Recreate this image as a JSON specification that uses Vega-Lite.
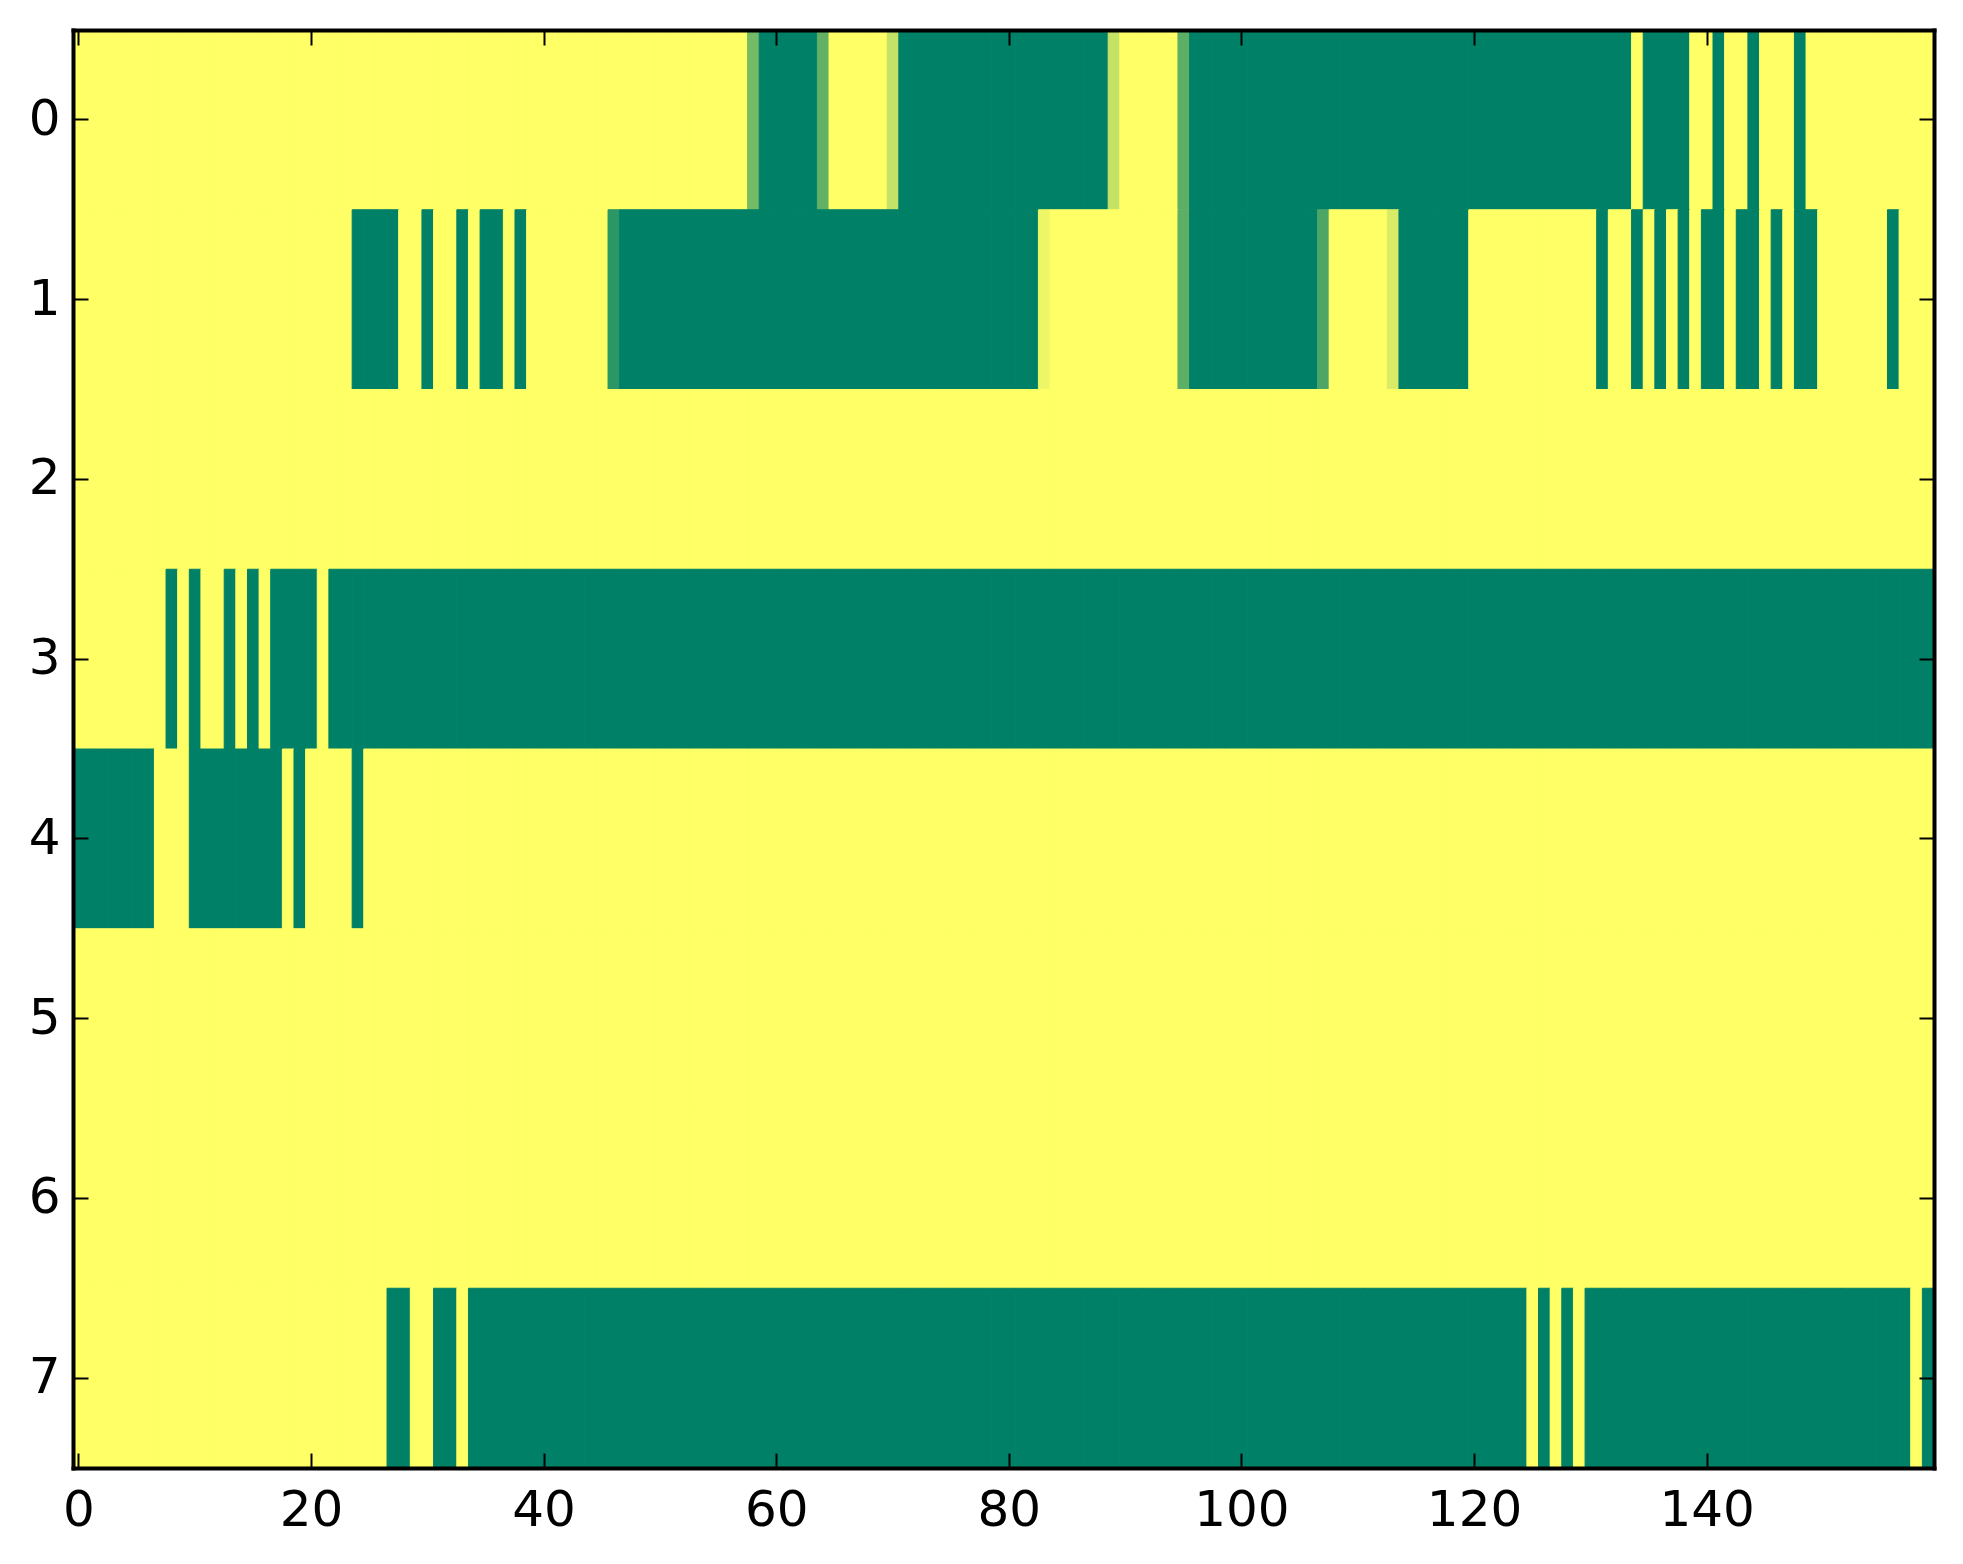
{
"$schema":"https://vega.github.io/schema/vega-lite/v6.json",
"width":1861,"height":1438,
"autosize":{"type":"none"},
"padding":{"left":73,"top":30,"right":29,"bottom":96},
"background":"white",
"config":{"view":{"stroke":null},"axis":{"labelFont":"DejaVu Sans","labelFontSize":50,"labelColor":"black","tickColor":"black","tickWidth":2,"tickSize":-15,"domainColor":"black","domainWidth":4,"domainCap":"square","grid":false,"title":null,"labelAngle":0}},
"data":{"values":[
{"c":0,"r":0,"v":1},{"c":1,"r":0,"v":1},{"c":2,"r":0,"v":1},{"c":3,"r":0,"v":1},{"c":4,"r":0,"v":1},{"c":5,"r":0,"v":1},{"c":6,"r":0,"v":1},{"c":7,"r":0,"v":1},{"c":8,"r":0,"v":1},{"c":9,"r":0,"v":1},
{"c":10,"r":0,"v":1},{"c":11,"r":0,"v":1},{"c":12,"r":0,"v":1},{"c":13,"r":0,"v":1},{"c":14,"r":0,"v":1},{"c":15,"r":0,"v":1},{"c":16,"r":0,"v":1},{"c":17,"r":0,"v":1},{"c":18,"r":0,"v":1},{"c":19,"r":0,"v":1},
{"c":20,"r":0,"v":1},{"c":21,"r":0,"v":1},{"c":22,"r":0,"v":1},{"c":23,"r":0,"v":1},{"c":24,"r":0,"v":1},{"c":25,"r":0,"v":1},{"c":26,"r":0,"v":1},{"c":27,"r":0,"v":1},{"c":28,"r":0,"v":1},{"c":29,"r":0,"v":1},
{"c":30,"r":0,"v":1},{"c":31,"r":0,"v":1},{"c":32,"r":0,"v":1},{"c":33,"r":0,"v":1},{"c":34,"r":0,"v":1},{"c":35,"r":0,"v":1},{"c":36,"r":0,"v":1},{"c":37,"r":0,"v":1},{"c":38,"r":0,"v":1},{"c":39,"r":0,"v":1},
{"c":40,"r":0,"v":1},{"c":41,"r":0,"v":1},{"c":42,"r":0,"v":1},{"c":43,"r":0,"v":1},{"c":44,"r":0,"v":1},{"c":45,"r":0,"v":1},{"c":46,"r":0,"v":1},{"c":47,"r":0,"v":1},{"c":48,"r":0,"v":1},{"c":49,"r":0,"v":1},
{"c":50,"r":0,"v":1},{"c":51,"r":0,"v":1},{"c":52,"r":0,"v":1},{"c":53,"r":0,"v":1},{"c":54,"r":0,"v":1},{"c":55,"r":0,"v":1},{"c":56,"r":0,"v":1},{"c":57,"r":0,"v":1},{"c":58,"r":0,"v":0.46},{"c":59,"r":0,"v":0},
{"c":60,"r":0,"v":0},{"c":61,"r":0,"v":0},{"c":62,"r":0,"v":0},{"c":63,"r":0,"v":0},{"c":64,"r":0,"v":0.38},{"c":65,"r":0,"v":1},{"c":66,"r":0,"v":1},{"c":67,"r":0,"v":1},{"c":68,"r":0,"v":1},{"c":69,"r":0,"v":1},
{"c":70,"r":0,"v":0.77},{"c":71,"r":0,"v":0},{"c":72,"r":0,"v":0},{"c":73,"r":0,"v":0},{"c":74,"r":0,"v":0},{"c":75,"r":0,"v":0},{"c":76,"r":0,"v":0},{"c":77,"r":0,"v":0},{"c":78,"r":0,"v":0},{"c":79,"r":0,"v":0},
{"c":80,"r":0,"v":0},{"c":81,"r":0,"v":0},{"c":82,"r":0,"v":0},{"c":83,"r":0,"v":0},{"c":84,"r":0,"v":0},{"c":85,"r":0,"v":0},{"c":86,"r":0,"v":0},{"c":87,"r":0,"v":0},{"c":88,"r":0,"v":0},{"c":89,"r":0,"v":0.77},
{"c":90,"r":0,"v":1},{"c":91,"r":0,"v":1},{"c":92,"r":0,"v":1},{"c":93,"r":0,"v":1},{"c":94,"r":0,"v":1},{"c":95,"r":0,"v":0.37},{"c":96,"r":0,"v":0},{"c":97,"r":0,"v":0},{"c":98,"r":0,"v":0},{"c":99,"r":0,"v":0},
{"c":100,"r":0,"v":0},{"c":101,"r":0,"v":0},{"c":102,"r":0,"v":0},{"c":103,"r":0,"v":0},{"c":104,"r":0,"v":0},{"c":105,"r":0,"v":0},{"c":106,"r":0,"v":0},{"c":107,"r":0,"v":0},{"c":108,"r":0,"v":0},{"c":109,"r":0,"v":0},
{"c":110,"r":0,"v":0},{"c":111,"r":0,"v":0},{"c":112,"r":0,"v":0},{"c":113,"r":0,"v":0},{"c":114,"r":0,"v":0},{"c":115,"r":0,"v":0},{"c":116,"r":0,"v":0},{"c":117,"r":0,"v":0},{"c":118,"r":0,"v":0},{"c":119,"r":0,"v":0},
{"c":120,"r":0,"v":0},{"c":121,"r":0,"v":0},{"c":122,"r":0,"v":0},{"c":123,"r":0,"v":0},{"c":124,"r":0,"v":0},{"c":125,"r":0,"v":0},{"c":126,"r":0,"v":0},{"c":127,"r":0,"v":0},{"c":128,"r":0,"v":0},{"c":129,"r":0,"v":0},
{"c":130,"r":0,"v":0},{"c":131,"r":0,"v":0},{"c":132,"r":0,"v":0},{"c":133,"r":0,"v":0},{"c":134,"r":0,"v":1},{"c":135,"r":0,"v":0},{"c":136,"r":0,"v":0},{"c":137,"r":0,"v":0},{"c":138,"r":0,"v":0},{"c":139,"r":0,"v":1},
{"c":140,"r":0,"v":1},{"c":141,"r":0,"v":0},{"c":142,"r":0,"v":1},{"c":143,"r":0,"v":1},{"c":144,"r":0,"v":0},{"c":145,"r":0,"v":1},{"c":146,"r":0,"v":1},{"c":147,"r":0,"v":1},{"c":148,"r":0,"v":0},{"c":149,"r":0,"v":1},
{"c":150,"r":0,"v":1},{"c":151,"r":0,"v":1},{"c":152,"r":0,"v":1},{"c":153,"r":0,"v":1},{"c":154,"r":0,"v":1},{"c":155,"r":0,"v":1},{"c":156,"r":0,"v":1},{"c":157,"r":0,"v":1},{"c":158,"r":0,"v":1},{"c":159,"r":0,"v":1},
{"c":0,"r":1,"v":1},{"c":1,"r":1,"v":1},{"c":2,"r":1,"v":1},{"c":3,"r":1,"v":1},{"c":4,"r":1,"v":1},{"c":5,"r":1,"v":1},{"c":6,"r":1,"v":1},{"c":7,"r":1,"v":1},{"c":8,"r":1,"v":1},{"c":9,"r":1,"v":1},
{"c":10,"r":1,"v":1},{"c":11,"r":1,"v":1},{"c":12,"r":1,"v":1},{"c":13,"r":1,"v":1},{"c":14,"r":1,"v":1},{"c":15,"r":1,"v":1},{"c":16,"r":1,"v":1},{"c":17,"r":1,"v":1},{"c":18,"r":1,"v":1},{"c":19,"r":1,"v":1},
{"c":20,"r":1,"v":1},{"c":21,"r":1,"v":1},{"c":22,"r":1,"v":1},{"c":23,"r":1,"v":1},{"c":24,"r":1,"v":0},{"c":25,"r":1,"v":0},{"c":26,"r":1,"v":0},{"c":27,"r":1,"v":0},{"c":28,"r":1,"v":1},{"c":29,"r":1,"v":1},
{"c":30,"r":1,"v":0},{"c":31,"r":1,"v":1},{"c":32,"r":1,"v":1},{"c":33,"r":1,"v":0},{"c":34,"r":1,"v":1},{"c":35,"r":1,"v":0},{"c":36,"r":1,"v":0},{"c":37,"r":1,"v":1},{"c":38,"r":1,"v":0},{"c":39,"r":1,"v":1},
{"c":40,"r":1,"v":1},{"c":41,"r":1,"v":1},{"c":42,"r":1,"v":1},{"c":43,"r":1,"v":1},{"c":44,"r":1,"v":1},{"c":45,"r":1,"v":1},{"c":46,"r":1,"v":0.17},{"c":47,"r":1,"v":0},{"c":48,"r":1,"v":0},{"c":49,"r":1,"v":0},
{"c":50,"r":1,"v":0},{"c":51,"r":1,"v":0},{"c":52,"r":1,"v":0},{"c":53,"r":1,"v":0},{"c":54,"r":1,"v":0},{"c":55,"r":1,"v":0},{"c":56,"r":1,"v":0},{"c":57,"r":1,"v":0},{"c":58,"r":1,"v":0},{"c":59,"r":1,"v":0},
{"c":60,"r":1,"v":0},{"c":61,"r":1,"v":0},{"c":62,"r":1,"v":0},{"c":63,"r":1,"v":0},{"c":64,"r":1,"v":0},{"c":65,"r":1,"v":0},{"c":66,"r":1,"v":0},{"c":67,"r":1,"v":0},{"c":68,"r":1,"v":0},{"c":69,"r":1,"v":0},
{"c":70,"r":1,"v":0},{"c":71,"r":1,"v":0},{"c":72,"r":1,"v":0},{"c":73,"r":1,"v":0},{"c":74,"r":1,"v":0},{"c":75,"r":1,"v":0},{"c":76,"r":1,"v":0},{"c":77,"r":1,"v":0},{"c":78,"r":1,"v":0},{"c":79,"r":1,"v":0},
{"c":80,"r":1,"v":0},{"c":81,"r":1,"v":0},{"c":82,"r":1,"v":0},{"c":83,"r":1,"v":0.93},{"c":84,"r":1,"v":1},{"c":85,"r":1,"v":1},{"c":86,"r":1,"v":1},{"c":87,"r":1,"v":1},{"c":88,"r":1,"v":1},{"c":89,"r":1,"v":1},
{"c":90,"r":1,"v":1},{"c":91,"r":1,"v":1},{"c":92,"r":1,"v":1},{"c":93,"r":1,"v":1},{"c":94,"r":1,"v":1},{"c":95,"r":1,"v":0.37},{"c":96,"r":1,"v":0},{"c":97,"r":1,"v":0},{"c":98,"r":1,"v":0},{"c":99,"r":1,"v":0},
{"c":100,"r":1,"v":0},{"c":101,"r":1,"v":0},{"c":102,"r":1,"v":0},{"c":103,"r":1,"v":0},{"c":104,"r":1,"v":0},{"c":105,"r":1,"v":0},{"c":106,"r":1,"v":0},{"c":107,"r":1,"v":0.3},{"c":108,"r":1,"v":1},{"c":109,"r":1,"v":1},
{"c":110,"r":1,"v":1},{"c":111,"r":1,"v":1},{"c":112,"r":1,"v":1},{"c":113,"r":1,"v":0.85},{"c":114,"r":1,"v":0},{"c":115,"r":1,"v":0},{"c":116,"r":1,"v":0},{"c":117,"r":1,"v":0},{"c":118,"r":1,"v":0},{"c":119,"r":1,"v":0},
{"c":120,"r":1,"v":1},{"c":121,"r":1,"v":1},{"c":122,"r":1,"v":1},{"c":123,"r":1,"v":1},{"c":124,"r":1,"v":1},{"c":125,"r":1,"v":1},{"c":126,"r":1,"v":1},{"c":127,"r":1,"v":1},{"c":128,"r":1,"v":1},{"c":129,"r":1,"v":1},
{"c":130,"r":1,"v":1},{"c":131,"r":1,"v":0},{"c":132,"r":1,"v":1},{"c":133,"r":1,"v":1},{"c":134,"r":1,"v":0},{"c":135,"r":1,"v":1},{"c":136,"r":1,"v":0},{"c":137,"r":1,"v":1},{"c":138,"r":1,"v":0},{"c":139,"r":1,"v":1},
{"c":140,"r":1,"v":0},{"c":141,"r":1,"v":0},{"c":142,"r":1,"v":1},{"c":143,"r":1,"v":0},{"c":144,"r":1,"v":0},{"c":145,"r":1,"v":1},{"c":146,"r":1,"v":0},{"c":147,"r":1,"v":1},{"c":148,"r":1,"v":0},{"c":149,"r":1,"v":0},
{"c":150,"r":1,"v":1},{"c":151,"r":1,"v":1},{"c":152,"r":1,"v":1},{"c":153,"r":1,"v":1},{"c":154,"r":1,"v":1},{"c":155,"r":1,"v":1},{"c":156,"r":1,"v":0},{"c":157,"r":1,"v":1},{"c":158,"r":1,"v":1},{"c":159,"r":1,"v":1},
{"c":0,"r":2,"v":1},{"c":1,"r":2,"v":1},{"c":2,"r":2,"v":1},{"c":3,"r":2,"v":1},{"c":4,"r":2,"v":1},{"c":5,"r":2,"v":1},{"c":6,"r":2,"v":1},{"c":7,"r":2,"v":1},{"c":8,"r":2,"v":1},{"c":9,"r":2,"v":1},
{"c":10,"r":2,"v":1},{"c":11,"r":2,"v":1},{"c":12,"r":2,"v":1},{"c":13,"r":2,"v":1},{"c":14,"r":2,"v":1},{"c":15,"r":2,"v":1},{"c":16,"r":2,"v":1},{"c":17,"r":2,"v":1},{"c":18,"r":2,"v":1},{"c":19,"r":2,"v":1},
{"c":20,"r":2,"v":1},{"c":21,"r":2,"v":1},{"c":22,"r":2,"v":1},{"c":23,"r":2,"v":1},{"c":24,"r":2,"v":1},{"c":25,"r":2,"v":1},{"c":26,"r":2,"v":1},{"c":27,"r":2,"v":1},{"c":28,"r":2,"v":1},{"c":29,"r":2,"v":1},
{"c":30,"r":2,"v":1},{"c":31,"r":2,"v":1},{"c":32,"r":2,"v":1},{"c":33,"r":2,"v":1},{"c":34,"r":2,"v":1},{"c":35,"r":2,"v":1},{"c":36,"r":2,"v":1},{"c":37,"r":2,"v":1},{"c":38,"r":2,"v":1},{"c":39,"r":2,"v":1},
{"c":40,"r":2,"v":1},{"c":41,"r":2,"v":1},{"c":42,"r":2,"v":1},{"c":43,"r":2,"v":1},{"c":44,"r":2,"v":1},{"c":45,"r":2,"v":1},{"c":46,"r":2,"v":1},{"c":47,"r":2,"v":1},{"c":48,"r":2,"v":1},{"c":49,"r":2,"v":1},
{"c":50,"r":2,"v":1},{"c":51,"r":2,"v":1},{"c":52,"r":2,"v":1},{"c":53,"r":2,"v":1},{"c":54,"r":2,"v":1},{"c":55,"r":2,"v":1},{"c":56,"r":2,"v":1},{"c":57,"r":2,"v":1},{"c":58,"r":2,"v":1},{"c":59,"r":2,"v":1},
{"c":60,"r":2,"v":1},{"c":61,"r":2,"v":1},{"c":62,"r":2,"v":1},{"c":63,"r":2,"v":1},{"c":64,"r":2,"v":1},{"c":65,"r":2,"v":1},{"c":66,"r":2,"v":1},{"c":67,"r":2,"v":1},{"c":68,"r":2,"v":1},{"c":69,"r":2,"v":1},
{"c":70,"r":2,"v":1},{"c":71,"r":2,"v":1},{"c":72,"r":2,"v":1},{"c":73,"r":2,"v":1},{"c":74,"r":2,"v":1},{"c":75,"r":2,"v":1},{"c":76,"r":2,"v":1},{"c":77,"r":2,"v":1},{"c":78,"r":2,"v":1},{"c":79,"r":2,"v":1},
{"c":80,"r":2,"v":1},{"c":81,"r":2,"v":1},{"c":82,"r":2,"v":1},{"c":83,"r":2,"v":1},{"c":84,"r":2,"v":1},{"c":85,"r":2,"v":1},{"c":86,"r":2,"v":1},{"c":87,"r":2,"v":1},{"c":88,"r":2,"v":1},{"c":89,"r":2,"v":1},
{"c":90,"r":2,"v":1},{"c":91,"r":2,"v":1},{"c":92,"r":2,"v":1},{"c":93,"r":2,"v":1},{"c":94,"r":2,"v":1},{"c":95,"r":2,"v":1},{"c":96,"r":2,"v":1},{"c":97,"r":2,"v":1},{"c":98,"r":2,"v":1},{"c":99,"r":2,"v":1},
{"c":100,"r":2,"v":1},{"c":101,"r":2,"v":1},{"c":102,"r":2,"v":1},{"c":103,"r":2,"v":1},{"c":104,"r":2,"v":1},{"c":105,"r":2,"v":1},{"c":106,"r":2,"v":1},{"c":107,"r":2,"v":1},{"c":108,"r":2,"v":1},{"c":109,"r":2,"v":1},
{"c":110,"r":2,"v":1},{"c":111,"r":2,"v":1},{"c":112,"r":2,"v":1},{"c":113,"r":2,"v":1},{"c":114,"r":2,"v":1},{"c":115,"r":2,"v":1},{"c":116,"r":2,"v":1},{"c":117,"r":2,"v":1},{"c":118,"r":2,"v":1},{"c":119,"r":2,"v":1},
{"c":120,"r":2,"v":1},{"c":121,"r":2,"v":1},{"c":122,"r":2,"v":1},{"c":123,"r":2,"v":1},{"c":124,"r":2,"v":1},{"c":125,"r":2,"v":1},{"c":126,"r":2,"v":1},{"c":127,"r":2,"v":1},{"c":128,"r":2,"v":1},{"c":129,"r":2,"v":1},
{"c":130,"r":2,"v":1},{"c":131,"r":2,"v":1},{"c":132,"r":2,"v":1},{"c":133,"r":2,"v":1},{"c":134,"r":2,"v":1},{"c":135,"r":2,"v":1},{"c":136,"r":2,"v":1},{"c":137,"r":2,"v":1},{"c":138,"r":2,"v":1},{"c":139,"r":2,"v":1},
{"c":140,"r":2,"v":1},{"c":141,"r":2,"v":1},{"c":142,"r":2,"v":1},{"c":143,"r":2,"v":1},{"c":144,"r":2,"v":1},{"c":145,"r":2,"v":1},{"c":146,"r":2,"v":1},{"c":147,"r":2,"v":1},{"c":148,"r":2,"v":1},{"c":149,"r":2,"v":1},
{"c":150,"r":2,"v":1},{"c":151,"r":2,"v":1},{"c":152,"r":2,"v":1},{"c":153,"r":2,"v":1},{"c":154,"r":2,"v":1},{"c":155,"r":2,"v":1},{"c":156,"r":2,"v":1},{"c":157,"r":2,"v":1},{"c":158,"r":2,"v":1},{"c":159,"r":2,"v":1},
{"c":0,"r":3,"v":1},{"c":1,"r":3,"v":1},{"c":2,"r":3,"v":1},{"c":3,"r":3,"v":1},{"c":4,"r":3,"v":1},{"c":5,"r":3,"v":1},{"c":6,"r":3,"v":1},{"c":7,"r":3,"v":1},{"c":8,"r":3,"v":0},{"c":9,"r":3,"v":1},
{"c":10,"r":3,"v":0},{"c":11,"r":3,"v":1},{"c":12,"r":3,"v":1},{"c":13,"r":3,"v":0},{"c":14,"r":3,"v":1},{"c":15,"r":3,"v":0},{"c":16,"r":3,"v":1},{"c":17,"r":3,"v":0},{"c":18,"r":3,"v":0},{"c":19,"r":3,"v":0},
{"c":20,"r":3,"v":0},{"c":21,"r":3,"v":1},{"c":22,"r":3,"v":0},{"c":23,"r":3,"v":0},{"c":24,"r":3,"v":0},{"c":25,"r":3,"v":0},{"c":26,"r":3,"v":0},{"c":27,"r":3,"v":0},{"c":28,"r":3,"v":0},{"c":29,"r":3,"v":0},
{"c":30,"r":3,"v":0},{"c":31,"r":3,"v":0},{"c":32,"r":3,"v":0},{"c":33,"r":3,"v":0},{"c":34,"r":3,"v":0},{"c":35,"r":3,"v":0},{"c":36,"r":3,"v":0},{"c":37,"r":3,"v":0},{"c":38,"r":3,"v":0},{"c":39,"r":3,"v":0},
{"c":40,"r":3,"v":0},{"c":41,"r":3,"v":0},{"c":42,"r":3,"v":0},{"c":43,"r":3,"v":0},{"c":44,"r":3,"v":0},{"c":45,"r":3,"v":0},{"c":46,"r":3,"v":0},{"c":47,"r":3,"v":0},{"c":48,"r":3,"v":0},{"c":49,"r":3,"v":0},
{"c":50,"r":3,"v":0},{"c":51,"r":3,"v":0},{"c":52,"r":3,"v":0},{"c":53,"r":3,"v":0},{"c":54,"r":3,"v":0},{"c":55,"r":3,"v":0},{"c":56,"r":3,"v":0},{"c":57,"r":3,"v":0},{"c":58,"r":3,"v":0},{"c":59,"r":3,"v":0},
{"c":60,"r":3,"v":0},{"c":61,"r":3,"v":0},{"c":62,"r":3,"v":0},{"c":63,"r":3,"v":0},{"c":64,"r":3,"v":0},{"c":65,"r":3,"v":0},{"c":66,"r":3,"v":0},{"c":67,"r":3,"v":0},{"c":68,"r":3,"v":0},{"c":69,"r":3,"v":0},
{"c":70,"r":3,"v":0},{"c":71,"r":3,"v":0},{"c":72,"r":3,"v":0},{"c":73,"r":3,"v":0},{"c":74,"r":3,"v":0},{"c":75,"r":3,"v":0},{"c":76,"r":3,"v":0},{"c":77,"r":3,"v":0},{"c":78,"r":3,"v":0},{"c":79,"r":3,"v":0},
{"c":80,"r":3,"v":0},{"c":81,"r":3,"v":0},{"c":82,"r":3,"v":0},{"c":83,"r":3,"v":0},{"c":84,"r":3,"v":0},{"c":85,"r":3,"v":0},{"c":86,"r":3,"v":0},{"c":87,"r":3,"v":0},{"c":88,"r":3,"v":0},{"c":89,"r":3,"v":0},
{"c":90,"r":3,"v":0},{"c":91,"r":3,"v":0},{"c":92,"r":3,"v":0},{"c":93,"r":3,"v":0},{"c":94,"r":3,"v":0},{"c":95,"r":3,"v":0},{"c":96,"r":3,"v":0},{"c":97,"r":3,"v":0},{"c":98,"r":3,"v":0},{"c":99,"r":3,"v":0},
{"c":100,"r":3,"v":0},{"c":101,"r":3,"v":0},{"c":102,"r":3,"v":0},{"c":103,"r":3,"v":0},{"c":104,"r":3,"v":0},{"c":105,"r":3,"v":0},{"c":106,"r":3,"v":0},{"c":107,"r":3,"v":0},{"c":108,"r":3,"v":0},{"c":109,"r":3,"v":0},
{"c":110,"r":3,"v":0},{"c":111,"r":3,"v":0},{"c":112,"r":3,"v":0},{"c":113,"r":3,"v":0},{"c":114,"r":3,"v":0},{"c":115,"r":3,"v":0},{"c":116,"r":3,"v":0},{"c":117,"r":3,"v":0},{"c":118,"r":3,"v":0},{"c":119,"r":3,"v":0},
{"c":120,"r":3,"v":0},{"c":121,"r":3,"v":0},{"c":122,"r":3,"v":0},{"c":123,"r":3,"v":0},{"c":124,"r":3,"v":0},{"c":125,"r":3,"v":0},{"c":126,"r":3,"v":0},{"c":127,"r":3,"v":0},{"c":128,"r":3,"v":0},{"c":129,"r":3,"v":0},
{"c":130,"r":3,"v":0},{"c":131,"r":3,"v":0},{"c":132,"r":3,"v":0},{"c":133,"r":3,"v":0},{"c":134,"r":3,"v":0},{"c":135,"r":3,"v":0},{"c":136,"r":3,"v":0},{"c":137,"r":3,"v":0},{"c":138,"r":3,"v":0},{"c":139,"r":3,"v":0},
{"c":140,"r":3,"v":0},{"c":141,"r":3,"v":0},{"c":142,"r":3,"v":0},{"c":143,"r":3,"v":0},{"c":144,"r":3,"v":0},{"c":145,"r":3,"v":0},{"c":146,"r":3,"v":0},{"c":147,"r":3,"v":0},{"c":148,"r":3,"v":0},{"c":149,"r":3,"v":0},
{"c":150,"r":3,"v":0},{"c":151,"r":3,"v":0},{"c":152,"r":3,"v":0},{"c":153,"r":3,"v":0},{"c":154,"r":3,"v":0},{"c":155,"r":3,"v":0},{"c":156,"r":3,"v":0},{"c":157,"r":3,"v":0},{"c":158,"r":3,"v":0},{"c":159,"r":3,"v":0},
{"c":0,"r":4,"v":0},{"c":1,"r":4,"v":0},{"c":2,"r":4,"v":0},{"c":3,"r":4,"v":0},{"c":4,"r":4,"v":0},{"c":5,"r":4,"v":0},{"c":6,"r":4,"v":0},{"c":7,"r":4,"v":1},{"c":8,"r":4,"v":1},{"c":9,"r":4,"v":1},
{"c":10,"r":4,"v":0},{"c":11,"r":4,"v":0},{"c":12,"r":4,"v":0},{"c":13,"r":4,"v":0},{"c":14,"r":4,"v":0},{"c":15,"r":4,"v":0},{"c":16,"r":4,"v":0},{"c":17,"r":4,"v":0},{"c":18,"r":4,"v":1},{"c":19,"r":4,"v":0},
{"c":20,"r":4,"v":1},{"c":21,"r":4,"v":1},{"c":22,"r":4,"v":1},{"c":23,"r":4,"v":1},{"c":24,"r":4,"v":0},{"c":25,"r":4,"v":1},{"c":26,"r":4,"v":1},{"c":27,"r":4,"v":1},{"c":28,"r":4,"v":1},{"c":29,"r":4,"v":1},
{"c":30,"r":4,"v":1},{"c":31,"r":4,"v":1},{"c":32,"r":4,"v":1},{"c":33,"r":4,"v":1},{"c":34,"r":4,"v":1},{"c":35,"r":4,"v":1},{"c":36,"r":4,"v":1},{"c":37,"r":4,"v":1},{"c":38,"r":4,"v":1},{"c":39,"r":4,"v":1},
{"c":40,"r":4,"v":1},{"c":41,"r":4,"v":1},{"c":42,"r":4,"v":1},{"c":43,"r":4,"v":1},{"c":44,"r":4,"v":1},{"c":45,"r":4,"v":1},{"c":46,"r":4,"v":1},{"c":47,"r":4,"v":1},{"c":48,"r":4,"v":1},{"c":49,"r":4,"v":1},
{"c":50,"r":4,"v":1},{"c":51,"r":4,"v":1},{"c":52,"r":4,"v":1},{"c":53,"r":4,"v":1},{"c":54,"r":4,"v":1},{"c":55,"r":4,"v":1},{"c":56,"r":4,"v":1},{"c":57,"r":4,"v":1},{"c":58,"r":4,"v":1},{"c":59,"r":4,"v":1},
{"c":60,"r":4,"v":1},{"c":61,"r":4,"v":1},{"c":62,"r":4,"v":1},{"c":63,"r":4,"v":1},{"c":64,"r":4,"v":1},{"c":65,"r":4,"v":1},{"c":66,"r":4,"v":1},{"c":67,"r":4,"v":1},{"c":68,"r":4,"v":1},{"c":69,"r":4,"v":1},
{"c":70,"r":4,"v":1},{"c":71,"r":4,"v":1},{"c":72,"r":4,"v":1},{"c":73,"r":4,"v":1},{"c":74,"r":4,"v":1},{"c":75,"r":4,"v":1},{"c":76,"r":4,"v":1},{"c":77,"r":4,"v":1},{"c":78,"r":4,"v":1},{"c":79,"r":4,"v":1},
{"c":80,"r":4,"v":1},{"c":81,"r":4,"v":1},{"c":82,"r":4,"v":1},{"c":83,"r":4,"v":1},{"c":84,"r":4,"v":1},{"c":85,"r":4,"v":1},{"c":86,"r":4,"v":1},{"c":87,"r":4,"v":1},{"c":88,"r":4,"v":1},{"c":89,"r":4,"v":1},
{"c":90,"r":4,"v":1},{"c":91,"r":4,"v":1},{"c":92,"r":4,"v":1},{"c":93,"r":4,"v":1},{"c":94,"r":4,"v":1},{"c":95,"r":4,"v":1},{"c":96,"r":4,"v":1},{"c":97,"r":4,"v":1},{"c":98,"r":4,"v":1},{"c":99,"r":4,"v":1},
{"c":100,"r":4,"v":1},{"c":101,"r":4,"v":1},{"c":102,"r":4,"v":1},{"c":103,"r":4,"v":1},{"c":104,"r":4,"v":1},{"c":105,"r":4,"v":1},{"c":106,"r":4,"v":1},{"c":107,"r":4,"v":1},{"c":108,"r":4,"v":1},{"c":109,"r":4,"v":1},
{"c":110,"r":4,"v":1},{"c":111,"r":4,"v":1},{"c":112,"r":4,"v":1},{"c":113,"r":4,"v":1},{"c":114,"r":4,"v":1},{"c":115,"r":4,"v":1},{"c":116,"r":4,"v":1},{"c":117,"r":4,"v":1},{"c":118,"r":4,"v":1},{"c":119,"r":4,"v":1},
{"c":120,"r":4,"v":1},{"c":121,"r":4,"v":1},{"c":122,"r":4,"v":1},{"c":123,"r":4,"v":1},{"c":124,"r":4,"v":1},{"c":125,"r":4,"v":1},{"c":126,"r":4,"v":1},{"c":127,"r":4,"v":1},{"c":128,"r":4,"v":1},{"c":129,"r":4,"v":1},
{"c":130,"r":4,"v":1},{"c":131,"r":4,"v":1},{"c":132,"r":4,"v":1},{"c":133,"r":4,"v":1},{"c":134,"r":4,"v":1},{"c":135,"r":4,"v":1},{"c":136,"r":4,"v":1},{"c":137,"r":4,"v":1},{"c":138,"r":4,"v":1},{"c":139,"r":4,"v":1},
{"c":140,"r":4,"v":1},{"c":141,"r":4,"v":1},{"c":142,"r":4,"v":1},{"c":143,"r":4,"v":1},{"c":144,"r":4,"v":1},{"c":145,"r":4,"v":1},{"c":146,"r":4,"v":1},{"c":147,"r":4,"v":1},{"c":148,"r":4,"v":1},{"c":149,"r":4,"v":1},
{"c":150,"r":4,"v":1},{"c":151,"r":4,"v":1},{"c":152,"r":4,"v":1},{"c":153,"r":4,"v":1},{"c":154,"r":4,"v":1},{"c":155,"r":4,"v":1},{"c":156,"r":4,"v":1},{"c":157,"r":4,"v":1},{"c":158,"r":4,"v":1},{"c":159,"r":4,"v":1},
{"c":0,"r":5,"v":1},{"c":1,"r":5,"v":1},{"c":2,"r":5,"v":1},{"c":3,"r":5,"v":1},{"c":4,"r":5,"v":1},{"c":5,"r":5,"v":1},{"c":6,"r":5,"v":1},{"c":7,"r":5,"v":1},{"c":8,"r":5,"v":1},{"c":9,"r":5,"v":1},
{"c":10,"r":5,"v":1},{"c":11,"r":5,"v":1},{"c":12,"r":5,"v":1},{"c":13,"r":5,"v":1},{"c":14,"r":5,"v":1},{"c":15,"r":5,"v":1},{"c":16,"r":5,"v":1},{"c":17,"r":5,"v":1},{"c":18,"r":5,"v":1},{"c":19,"r":5,"v":1},
{"c":20,"r":5,"v":1},{"c":21,"r":5,"v":1},{"c":22,"r":5,"v":1},{"c":23,"r":5,"v":1},{"c":24,"r":5,"v":1},{"c":25,"r":5,"v":1},{"c":26,"r":5,"v":1},{"c":27,"r":5,"v":1},{"c":28,"r":5,"v":1},{"c":29,"r":5,"v":1},
{"c":30,"r":5,"v":1},{"c":31,"r":5,"v":1},{"c":32,"r":5,"v":1},{"c":33,"r":5,"v":1},{"c":34,"r":5,"v":1},{"c":35,"r":5,"v":1},{"c":36,"r":5,"v":1},{"c":37,"r":5,"v":1},{"c":38,"r":5,"v":1},{"c":39,"r":5,"v":1},
{"c":40,"r":5,"v":1},{"c":41,"r":5,"v":1},{"c":42,"r":5,"v":1},{"c":43,"r":5,"v":1},{"c":44,"r":5,"v":1},{"c":45,"r":5,"v":1},{"c":46,"r":5,"v":1},{"c":47,"r":5,"v":1},{"c":48,"r":5,"v":1},{"c":49,"r":5,"v":1},
{"c":50,"r":5,"v":1},{"c":51,"r":5,"v":1},{"c":52,"r":5,"v":1},{"c":53,"r":5,"v":1},{"c":54,"r":5,"v":1},{"c":55,"r":5,"v":1},{"c":56,"r":5,"v":1},{"c":57,"r":5,"v":1},{"c":58,"r":5,"v":1},{"c":59,"r":5,"v":1},
{"c":60,"r":5,"v":1},{"c":61,"r":5,"v":1},{"c":62,"r":5,"v":1},{"c":63,"r":5,"v":1},{"c":64,"r":5,"v":1},{"c":65,"r":5,"v":1},{"c":66,"r":5,"v":1},{"c":67,"r":5,"v":1},{"c":68,"r":5,"v":1},{"c":69,"r":5,"v":1},
{"c":70,"r":5,"v":1},{"c":71,"r":5,"v":1},{"c":72,"r":5,"v":1},{"c":73,"r":5,"v":1},{"c":74,"r":5,"v":1},{"c":75,"r":5,"v":1},{"c":76,"r":5,"v":1},{"c":77,"r":5,"v":1},{"c":78,"r":5,"v":1},{"c":79,"r":5,"v":1},
{"c":80,"r":5,"v":1},{"c":81,"r":5,"v":1},{"c":82,"r":5,"v":1},{"c":83,"r":5,"v":1},{"c":84,"r":5,"v":1},{"c":85,"r":5,"v":1},{"c":86,"r":5,"v":1},{"c":87,"r":5,"v":1},{"c":88,"r":5,"v":1},{"c":89,"r":5,"v":1},
{"c":90,"r":5,"v":1},{"c":91,"r":5,"v":1},{"c":92,"r":5,"v":1},{"c":93,"r":5,"v":1},{"c":94,"r":5,"v":1},{"c":95,"r":5,"v":1},{"c":96,"r":5,"v":1},{"c":97,"r":5,"v":1},{"c":98,"r":5,"v":1},{"c":99,"r":5,"v":1},
{"c":100,"r":5,"v":1},{"c":101,"r":5,"v":1},{"c":102,"r":5,"v":1},{"c":103,"r":5,"v":1},{"c":104,"r":5,"v":1},{"c":105,"r":5,"v":1},{"c":106,"r":5,"v":1},{"c":107,"r":5,"v":1},{"c":108,"r":5,"v":1},{"c":109,"r":5,"v":1},
{"c":110,"r":5,"v":1},{"c":111,"r":5,"v":1},{"c":112,"r":5,"v":1},{"c":113,"r":5,"v":1},{"c":114,"r":5,"v":1},{"c":115,"r":5,"v":1},{"c":116,"r":5,"v":1},{"c":117,"r":5,"v":1},{"c":118,"r":5,"v":1},{"c":119,"r":5,"v":1},
{"c":120,"r":5,"v":1},{"c":121,"r":5,"v":1},{"c":122,"r":5,"v":1},{"c":123,"r":5,"v":1},{"c":124,"r":5,"v":1},{"c":125,"r":5,"v":1},{"c":126,"r":5,"v":1},{"c":127,"r":5,"v":1},{"c":128,"r":5,"v":1},{"c":129,"r":5,"v":1},
{"c":130,"r":5,"v":1},{"c":131,"r":5,"v":1},{"c":132,"r":5,"v":1},{"c":133,"r":5,"v":1},{"c":134,"r":5,"v":1},{"c":135,"r":5,"v":1},{"c":136,"r":5,"v":1},{"c":137,"r":5,"v":1},{"c":138,"r":5,"v":1},{"c":139,"r":5,"v":1},
{"c":140,"r":5,"v":1},{"c":141,"r":5,"v":1},{"c":142,"r":5,"v":1},{"c":143,"r":5,"v":1},{"c":144,"r":5,"v":1},{"c":145,"r":5,"v":1},{"c":146,"r":5,"v":1},{"c":147,"r":5,"v":1},{"c":148,"r":5,"v":1},{"c":149,"r":5,"v":1},
{"c":150,"r":5,"v":1},{"c":151,"r":5,"v":1},{"c":152,"r":5,"v":1},{"c":153,"r":5,"v":1},{"c":154,"r":5,"v":1},{"c":155,"r":5,"v":1},{"c":156,"r":5,"v":1},{"c":157,"r":5,"v":1},{"c":158,"r":5,"v":1},{"c":159,"r":5,"v":1},
{"c":0,"r":6,"v":1},{"c":1,"r":6,"v":1},{"c":2,"r":6,"v":1},{"c":3,"r":6,"v":1},{"c":4,"r":6,"v":1},{"c":5,"r":6,"v":1},{"c":6,"r":6,"v":1},{"c":7,"r":6,"v":1},{"c":8,"r":6,"v":1},{"c":9,"r":6,"v":1},
{"c":10,"r":6,"v":1},{"c":11,"r":6,"v":1},{"c":12,"r":6,"v":1},{"c":13,"r":6,"v":1},{"c":14,"r":6,"v":1},{"c":15,"r":6,"v":1},{"c":16,"r":6,"v":1},{"c":17,"r":6,"v":1},{"c":18,"r":6,"v":1},{"c":19,"r":6,"v":1},
{"c":20,"r":6,"v":1},{"c":21,"r":6,"v":1},{"c":22,"r":6,"v":1},{"c":23,"r":6,"v":1},{"c":24,"r":6,"v":1},{"c":25,"r":6,"v":1},{"c":26,"r":6,"v":1},{"c":27,"r":6,"v":1},{"c":28,"r":6,"v":1},{"c":29,"r":6,"v":1},
{"c":30,"r":6,"v":1},{"c":31,"r":6,"v":1},{"c":32,"r":6,"v":1},{"c":33,"r":6,"v":1},{"c":34,"r":6,"v":1},{"c":35,"r":6,"v":1},{"c":36,"r":6,"v":1},{"c":37,"r":6,"v":1},{"c":38,"r":6,"v":1},{"c":39,"r":6,"v":1},
{"c":40,"r":6,"v":1},{"c":41,"r":6,"v":1},{"c":42,"r":6,"v":1},{"c":43,"r":6,"v":1},{"c":44,"r":6,"v":1},{"c":45,"r":6,"v":1},{"c":46,"r":6,"v":1},{"c":47,"r":6,"v":1},{"c":48,"r":6,"v":1},{"c":49,"r":6,"v":1},
{"c":50,"r":6,"v":1},{"c":51,"r":6,"v":1},{"c":52,"r":6,"v":1},{"c":53,"r":6,"v":1},{"c":54,"r":6,"v":1},{"c":55,"r":6,"v":1},{"c":56,"r":6,"v":1},{"c":57,"r":6,"v":1},{"c":58,"r":6,"v":1},{"c":59,"r":6,"v":1},
{"c":60,"r":6,"v":1},{"c":61,"r":6,"v":1},{"c":62,"r":6,"v":1},{"c":63,"r":6,"v":1},{"c":64,"r":6,"v":1},{"c":65,"r":6,"v":1},{"c":66,"r":6,"v":1},{"c":67,"r":6,"v":1},{"c":68,"r":6,"v":1},{"c":69,"r":6,"v":1},
{"c":70,"r":6,"v":1},{"c":71,"r":6,"v":1},{"c":72,"r":6,"v":1},{"c":73,"r":6,"v":1},{"c":74,"r":6,"v":1},{"c":75,"r":6,"v":1},{"c":76,"r":6,"v":1},{"c":77,"r":6,"v":1},{"c":78,"r":6,"v":1},{"c":79,"r":6,"v":1},
{"c":80,"r":6,"v":1},{"c":81,"r":6,"v":1},{"c":82,"r":6,"v":1},{"c":83,"r":6,"v":1},{"c":84,"r":6,"v":1},{"c":85,"r":6,"v":1},{"c":86,"r":6,"v":1},{"c":87,"r":6,"v":1},{"c":88,"r":6,"v":1},{"c":89,"r":6,"v":1},
{"c":90,"r":6,"v":1},{"c":91,"r":6,"v":1},{"c":92,"r":6,"v":1},{"c":93,"r":6,"v":1},{"c":94,"r":6,"v":1},{"c":95,"r":6,"v":1},{"c":96,"r":6,"v":1},{"c":97,"r":6,"v":1},{"c":98,"r":6,"v":1},{"c":99,"r":6,"v":1},
{"c":100,"r":6,"v":1},{"c":101,"r":6,"v":1},{"c":102,"r":6,"v":1},{"c":103,"r":6,"v":1},{"c":104,"r":6,"v":1},{"c":105,"r":6,"v":1},{"c":106,"r":6,"v":1},{"c":107,"r":6,"v":1},{"c":108,"r":6,"v":1},{"c":109,"r":6,"v":1},
{"c":110,"r":6,"v":1},{"c":111,"r":6,"v":1},{"c":112,"r":6,"v":1},{"c":113,"r":6,"v":1},{"c":114,"r":6,"v":1},{"c":115,"r":6,"v":1},{"c":116,"r":6,"v":1},{"c":117,"r":6,"v":1},{"c":118,"r":6,"v":1},{"c":119,"r":6,"v":1},
{"c":120,"r":6,"v":1},{"c":121,"r":6,"v":1},{"c":122,"r":6,"v":1},{"c":123,"r":6,"v":1},{"c":124,"r":6,"v":1},{"c":125,"r":6,"v":1},{"c":126,"r":6,"v":1},{"c":127,"r":6,"v":1},{"c":128,"r":6,"v":1},{"c":129,"r":6,"v":1},
{"c":130,"r":6,"v":1},{"c":131,"r":6,"v":1},{"c":132,"r":6,"v":1},{"c":133,"r":6,"v":1},{"c":134,"r":6,"v":1},{"c":135,"r":6,"v":1},{"c":136,"r":6,"v":1},{"c":137,"r":6,"v":1},{"c":138,"r":6,"v":1},{"c":139,"r":6,"v":1},
{"c":140,"r":6,"v":1},{"c":141,"r":6,"v":1},{"c":142,"r":6,"v":1},{"c":143,"r":6,"v":1},{"c":144,"r":6,"v":1},{"c":145,"r":6,"v":1},{"c":146,"r":6,"v":1},{"c":147,"r":6,"v":1},{"c":148,"r":6,"v":1},{"c":149,"r":6,"v":1},
{"c":150,"r":6,"v":1},{"c":151,"r":6,"v":1},{"c":152,"r":6,"v":1},{"c":153,"r":6,"v":1},{"c":154,"r":6,"v":1},{"c":155,"r":6,"v":1},{"c":156,"r":6,"v":1},{"c":157,"r":6,"v":1},{"c":158,"r":6,"v":1},{"c":159,"r":6,"v":1},
{"c":0,"r":7,"v":1},{"c":1,"r":7,"v":1},{"c":2,"r":7,"v":1},{"c":3,"r":7,"v":1},{"c":4,"r":7,"v":1},{"c":5,"r":7,"v":1},{"c":6,"r":7,"v":1},{"c":7,"r":7,"v":1},{"c":8,"r":7,"v":1},{"c":9,"r":7,"v":1},
{"c":10,"r":7,"v":1},{"c":11,"r":7,"v":1},{"c":12,"r":7,"v":1},{"c":13,"r":7,"v":1},{"c":14,"r":7,"v":1},{"c":15,"r":7,"v":1},{"c":16,"r":7,"v":1},{"c":17,"r":7,"v":1},{"c":18,"r":7,"v":1},{"c":19,"r":7,"v":1},
{"c":20,"r":7,"v":1},{"c":21,"r":7,"v":1},{"c":22,"r":7,"v":1},{"c":23,"r":7,"v":1},{"c":24,"r":7,"v":1},{"c":25,"r":7,"v":1},{"c":26,"r":7,"v":1},{"c":27,"r":7,"v":0},{"c":28,"r":7,"v":0},{"c":29,"r":7,"v":1},
{"c":30,"r":7,"v":1},{"c":31,"r":7,"v":0},{"c":32,"r":7,"v":0},{"c":33,"r":7,"v":1},{"c":34,"r":7,"v":0},{"c":35,"r":7,"v":0},{"c":36,"r":7,"v":0},{"c":37,"r":7,"v":0},{"c":38,"r":7,"v":0},{"c":39,"r":7,"v":0},
{"c":40,"r":7,"v":0},{"c":41,"r":7,"v":0},{"c":42,"r":7,"v":0},{"c":43,"r":7,"v":0},{"c":44,"r":7,"v":0},{"c":45,"r":7,"v":0},{"c":46,"r":7,"v":0},{"c":47,"r":7,"v":0},{"c":48,"r":7,"v":0},{"c":49,"r":7,"v":0},
{"c":50,"r":7,"v":0},{"c":51,"r":7,"v":0},{"c":52,"r":7,"v":0},{"c":53,"r":7,"v":0},{"c":54,"r":7,"v":0},{"c":55,"r":7,"v":0},{"c":56,"r":7,"v":0},{"c":57,"r":7,"v":0},{"c":58,"r":7,"v":0},{"c":59,"r":7,"v":0},
{"c":60,"r":7,"v":0},{"c":61,"r":7,"v":0},{"c":62,"r":7,"v":0},{"c":63,"r":7,"v":0},{"c":64,"r":7,"v":0},{"c":65,"r":7,"v":0},{"c":66,"r":7,"v":0},{"c":67,"r":7,"v":0},{"c":68,"r":7,"v":0},{"c":69,"r":7,"v":0},
{"c":70,"r":7,"v":0},{"c":71,"r":7,"v":0},{"c":72,"r":7,"v":0},{"c":73,"r":7,"v":0},{"c":74,"r":7,"v":0},{"c":75,"r":7,"v":0},{"c":76,"r":7,"v":0},{"c":77,"r":7,"v":0},{"c":78,"r":7,"v":0},{"c":79,"r":7,"v":0},
{"c":80,"r":7,"v":0},{"c":81,"r":7,"v":0},{"c":82,"r":7,"v":0},{"c":83,"r":7,"v":0},{"c":84,"r":7,"v":0},{"c":85,"r":7,"v":0},{"c":86,"r":7,"v":0},{"c":87,"r":7,"v":0},{"c":88,"r":7,"v":0},{"c":89,"r":7,"v":0},
{"c":90,"r":7,"v":0},{"c":91,"r":7,"v":0},{"c":92,"r":7,"v":0},{"c":93,"r":7,"v":0},{"c":94,"r":7,"v":0},{"c":95,"r":7,"v":0},{"c":96,"r":7,"v":0},{"c":97,"r":7,"v":0},{"c":98,"r":7,"v":0},{"c":99,"r":7,"v":0},
{"c":100,"r":7,"v":0},{"c":101,"r":7,"v":0},{"c":102,"r":7,"v":0},{"c":103,"r":7,"v":0},{"c":104,"r":7,"v":0},{"c":105,"r":7,"v":0},{"c":106,"r":7,"v":0},{"c":107,"r":7,"v":0},{"c":108,"r":7,"v":0},{"c":109,"r":7,"v":0},
{"c":110,"r":7,"v":0},{"c":111,"r":7,"v":0},{"c":112,"r":7,"v":0},{"c":113,"r":7,"v":0},{"c":114,"r":7,"v":0},{"c":115,"r":7,"v":0},{"c":116,"r":7,"v":0},{"c":117,"r":7,"v":0},{"c":118,"r":7,"v":0},{"c":119,"r":7,"v":0},
{"c":120,"r":7,"v":0},{"c":121,"r":7,"v":0},{"c":122,"r":7,"v":0},{"c":123,"r":7,"v":0},{"c":124,"r":7,"v":0},{"c":125,"r":7,"v":1},{"c":126,"r":7,"v":0},{"c":127,"r":7,"v":1},{"c":128,"r":7,"v":0},{"c":129,"r":7,"v":1},
{"c":130,"r":7,"v":0},{"c":131,"r":7,"v":0},{"c":132,"r":7,"v":0},{"c":133,"r":7,"v":0},{"c":134,"r":7,"v":0},{"c":135,"r":7,"v":0},{"c":136,"r":7,"v":0},{"c":137,"r":7,"v":0},{"c":138,"r":7,"v":0},{"c":139,"r":7,"v":0},
{"c":140,"r":7,"v":0},{"c":141,"r":7,"v":0},{"c":142,"r":7,"v":0},{"c":143,"r":7,"v":0},{"c":144,"r":7,"v":0},{"c":145,"r":7,"v":0},{"c":146,"r":7,"v":0},{"c":147,"r":7,"v":0},{"c":148,"r":7,"v":0},{"c":149,"r":7,"v":0},
{"c":150,"r":7,"v":0},{"c":151,"r":7,"v":0},{"c":152,"r":7,"v":0},{"c":153,"r":7,"v":0},{"c":154,"r":7,"v":0},{"c":155,"r":7,"v":0},{"c":156,"r":7,"v":0},{"c":157,"r":7,"v":0},{"c":158,"r":7,"v":1},{"c":159,"r":7,"v":0}
]},
"layer":[
{"mark":{"type":"rect","strokeWidth":1},
 "encoding":{
  "x":{"field":"c","type":"ordinal","scale":{"paddingInner":0,"paddingOuter":0},"axis":{"orient":"bottom","values":[0,20,40,60,80,100,120,140],"labelPadding":32,"zindex":1}},
  "y":{"field":"r","type":"ordinal","scale":{"paddingInner":0,"paddingOuter":0},"axis":{"orient":"left","labelPadding":28,"zindex":1}},
  "color":{"field":"v","type":"quantitative","scale":{"domain":[0,1],"range":["#008066","#ffff66"],"interpolate":"rgb"},"legend":null},
  "stroke":{"field":"v","type":"quantitative","scale":{"domain":[0,1],"range":["#008066","#ffff66"],"interpolate":"rgb"},"legend":null}
 }},
{"mark":{"type":"rect","opacity":0},
 "encoding":{
  "x":{"field":"c","type":"ordinal","axis":{"orient":"top","values":[0,20,40,60,80,100,120,140],"labels":false,"zindex":1}},
  "y":{"field":"r","type":"ordinal","axis":{"orient":"right","labels":false,"zindex":1}}
 }}
],
"resolve":{"axis":{"x":"independent","y":"independent"}}
}
